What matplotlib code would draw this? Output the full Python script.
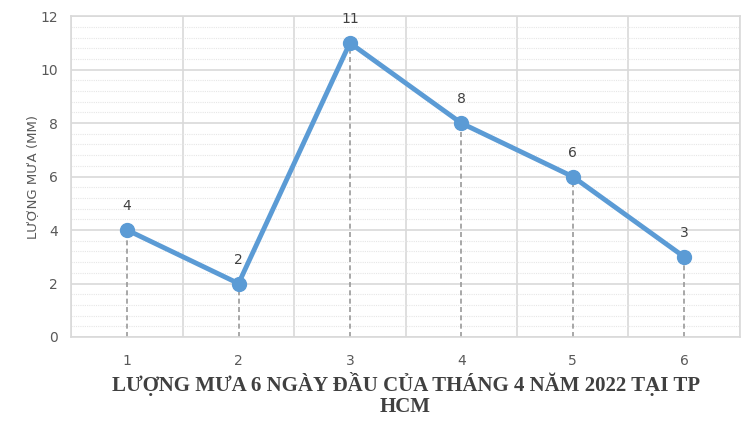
import matplotlib.pyplot as plt
import numpy as np

# Dữ liệu lượng mưa
days = [1, 2, 3, 4, 5, 6]
rain_mm = [4, 2, 11, 8, 6, 3]

line_color = '#5b9bd5'
grid_major = '#d9d9d9'
grid_minor = '#e6e6e6'
text_color = '#595959'

fig = plt.figure(figsize=(7.5, 4.26), dpi=100)
ax = fig.add_axes([0.0953, 0.209, 0.891, 0.753])

# drop lines
ax.vlines(days, 0, rain_mm, colors='#999999', linestyles=(0, (3, 2)), linewidth=1.2, zorder=2)

ax.plot(days, rain_mm, color=line_color, linewidth=3.5, marker='o', markersize=10,
        markerfacecolor=line_color, markeredgecolor=line_color, zorder=3)

for d, v in zip(days, rain_mm):
    ax.annotate(str(v), (d, v), xytext=(0, 12), textcoords='offset points',
                ha='center', va='bottom', fontsize=10, color='#404040')

ax.set_xlim(0.5, 6.5)
ax.set_ylim(0, 12)
ax.set_yticks(np.arange(0, 13, 2))
ax.set_yticks(np.arange(0, 12.01, 0.4), minor=True)
ax.set_xticks(days)
ax.set_xticks(np.arange(0.5, 6.6, 1), minor=True)

ax.grid(which='major', axis='y', color=grid_major, linewidth=1.2)
ax.grid(which='minor', axis='y', color=grid_minor, linewidth=0.8, linestyle=(0, (1, 1)))
ax.grid(which='minor', axis='x', color=grid_major, linewidth=1.2)
ax.set_axisbelow(True)

for s in ax.spines.values():
    s.set_color(grid_major)
    s.set_linewidth(1.2)

ax.tick_params(which='both', length=0)
ax.tick_params(axis='x', labelsize=10, labelcolor=text_color, pad=12)
ax.tick_params(axis='y', labelsize=10, labelcolor=text_color, pad=10)

ax.set_ylabel('LƯỢNG MƯA (MM)', fontsize=9.5, color=text_color, labelpad=1)

ax.set_xlabel('LƯỢNG MƯA 6 NGÀY ĐẦU CỦA THÁNG 4 NĂM 2022 TẠI TP\nHCM',
              fontsize=15, fontweight='bold', family='Liberation Serif',
              color='#404040', labelpad=3, linespacing=1.1)

plt.savefig('out.png', dpi=100)
